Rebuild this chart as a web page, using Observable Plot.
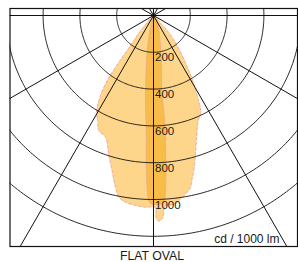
<!DOCTYPE html>
<html>
<head>
<meta charset="utf-8">
<script src="https://cdn.jsdelivr.net/npm/d3@7"></script>
<script src="https://cdn.jsdelivr.net/npm/@observablehq/plot@0.6"></script>
<style>
  html, body { margin: 0; padding: 0; background: #fff; }
  #chart { width: 298px; }
  #caption { width: 298px; text-align: center; font: 12.3px "Liberation Sans", Arial, sans-serif; color: #1a1a1a; line-height: 14px; margin-left: 3px; }
</style>
</head>
<body>
<div id="chart"></div>
<div id="caption">FLAT OVAL</div>
<script>
// Polar intensity data (angle in degrees from nadir, intensity in cd/1000 lm)
const broadAngles = [-46, -43, -40, -37.5, -36.5, -35.5, -33.5, -30.5, -28, -25.5, -21.5, -18, -15, -12.5, -10.8, -8.5, -5.4, -2.4, 0.5, 0.7, 1.4, 2.5, 3.1, 3.4, 4.1, 6.7, 8.4, 10.8, 12.2, 13.3, 14.6, 16.9, 19.5, 23, 26, 28.6, 31.3, 34.2, 38, 42, 46];
const broadCd     = [0, 50, 115, 205, 318, 428, 523, 611, 647, 692, 711, 790, 872, 956, 1005, 1026, 1037, 1043, 1043, 1098, 1117, 1105, 1061, 1037, 1035, 1030, 1007, 978, 954, 912, 870, 785, 701, 621, 586, 497, 405, 309, 209, 124, 0];
const narrowAngles = [-20, -16, -10.8, -5.7, -3.6, -2.6, -1.5, -0.9, 0.9, 3.1, 3.9, 5.1, 6, 6.2, 13, 28, 32];
const narrowCd     = [0, 40, 166, 437, 626, 843, 1006, 1022, 1027, 1018, 953, 737, 574, 437, 167, 43, 0];
const rings = [200, 400, 600, 800, 1000, 1200];
const ringLabels = ["200", "400", "600", "800", "1000"];
const spokes = [0, 30, 60, 90, 120, 150];
const unitLabel = "cd / 1000 lm";

const rad = Math.PI / 180;
const toXY = (a, r) => ({x: r * Math.sin(a * rad), y: -r * Math.cos(a * rad)});
const broad = broadAngles.map((a, i) => toXY(a, broadCd[i]));
const narrow = narrowAngles.map((a, i) => toXY(a, narrowCd[i]));
const circlePts = rings.flatMap(v => d3.range(0, 361, 1).map(a => ({ring: v, ...toXY(a, v)})));
const spokeLines = spokes.map(a => {
  const p = toXY(a, 1600), q = toXY(a + 180, 1600);
  return {x1: p.x, y1: p.y, x2: q.x, y2: q.y};
});
const labels = ringLabels.map((t, i) => ({v: rings[i], t}));

// layout: px per cd and frame geometry
const k = 0.184, W = 298, H = 249;
const mL = 9.5, mR = 1, mT = 8, mB = 3, cx = 153, cy = 15;

const chart = Plot.plot({
  width: W, height: H,
  marginLeft: mL, marginRight: mR, marginTop: mT, marginBottom: mB,
  x: {domain: [(mL - cx) / k, (W - mR - cx) / k], axis: null},
  y: {domain: [-(H - mB - cy) / k, (cy - mT) / k], axis: null},
  style: {fontFamily: "'Liberation Sans', Arial, sans-serif", fontSize: "11.5px", color: "#1a1a1a", background: "#fff"},
  marks: [
    Plot.line(broad, {x: "x", y: "y", fill: "#fdd68b", stroke: "#ee9a96", strokeWidth: 0.8, strokeDasharray: "3,2", curve: "catmull-rom"}),
    Plot.line(narrow, {x: "x", y: "y", fill: "#f7bd48", stroke: "#f2a585", strokeWidth: 0.8, curve: "catmull-rom"}),
    Plot.line(circlePts, {x: "x", y: "y", z: "ring", stroke: "#111", strokeWidth: 0.9, clip: "frame"}),
    Plot.link(spokeLines, {x1: "x1", y1: "y1", x2: "x2", y2: "y2", stroke: "#111", strokeWidth: 1, clip: "frame"}),
    Plot.text(labels, {x: () => 0, y: d => -d.v, text: "t", textAnchor: "start", lineAnchor: "top", dx: 1.5, dy: 1, fill: "#1a1a1a"}),
    Plot.text([unitLabel], {frameAnchor: "bottom-right", textAnchor: "end", lineAnchor: "middle", dx: -18, dy: -7.5, fontSize: 12, fill: "#1a1a1a"}),
    Plot.frame({stroke: "#111", strokeWidth: 1.2})
  ]
});
document.getElementById("chart").append(chart);
</script>
</body>
</html>
